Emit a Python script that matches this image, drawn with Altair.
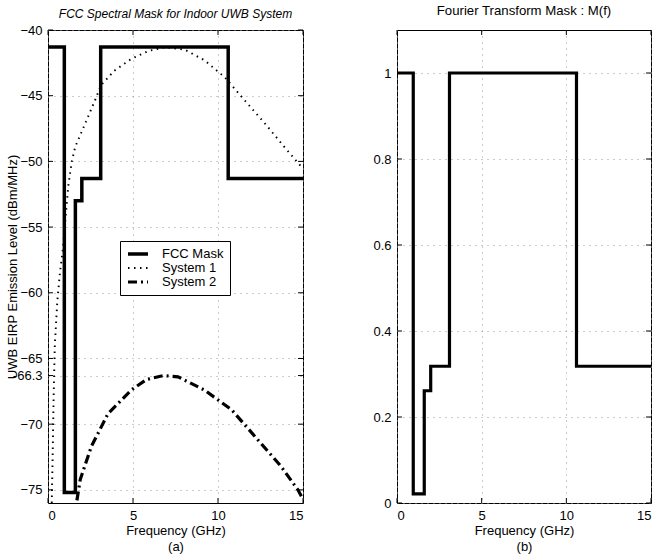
import altair as alt
import pandas as pd

# ---------------- data ----------------
# FCC indoor mask (left panel), step vertices
mask_freq = [0, 0.96, 0.96, 1.61, 1.61, 1.99, 1.99, 3.1, 3.1, 10.6, 10.6, 15]
mask_dbm = [-41.3, -41.3, -75.2, -75.2, -53.0, -53.0, -51.3, -51.3, -41.3, -41.3, -51.3, -51.3]

# System 1 (dotted)
sys1_freq = [0.22, 0.28, 0.33, 0.40, 0.55, 0.70, 0.88, 1.05, 1.20, 1.40, 1.60, 2.16, 2.75, 3.12,
             3.90, 4.90, 5.90, 6.90, 8.05, 9.20, 10.40, 11.60, 12.75, 13.90, 14.90]
sys1_dbm = [-76.0, -72.0, -68.0, -64.0, -60.6, -58.5, -56.6, -54.0, -51.8, -50.0, -48.9, -47.2,
            -45.4, -44.2, -43.1, -42.2, -41.6, -41.3, -41.5, -42.3, -43.6, -45.4, -47.1, -48.9, -50.4]

# System 2 (dash-dot)
sys2_freq = [1.70, 1.90, 2.55, 3.53, 4.90, 5.80, 6.80, 7.65, 9.20, 10.80, 12.35, 13.70, 14.70, 14.95]
sys2_dbm = [-75.8, -74.2, -71.7, -69.2, -67.4, -66.6, -66.3, -66.4, -67.4, -68.9, -71.2, -73.2,
            -75.0, -75.6]

# Fourier transform mask M(f) (right panel)
ft_freq = [0, 0.96, 0.96, 1.61, 1.61, 1.99, 1.99, 3.1, 3.1, 10.6, 10.6, 15]
ft_val = [1.0, 1.0, 0.021, 0.021, 0.261, 0.261, 0.318, 0.318, 1.0, 1.0, 0.318, 0.318]

series_names = ["FCC Mask", "System 1", "System 2"]

x_ticks = [0, 5, 10, 15]
y_ticks_a = [-75, -70, -66.3, -65, -60, -55, -50, -45, -40]
y_ticks_b = [0, 0.2, 0.4, 0.6, 0.8, 1]

# ---------------- tables ----------------
rows = []
for name, fx, fy in [(series_names[0], mask_freq, mask_dbm),
                     (series_names[1], sys1_freq, sys1_dbm),
                     (series_names[2], sys2_freq, sys2_dbm)]:
    for i, (a, b) in enumerate(zip(fx, fy)):
        rows.append({"series": name, "f": a, "v": b, "i": i})
df_a = pd.DataFrame(rows)
df_b = pd.DataFrame({"f": ft_freq, "v": ft_val, "i": list(range(len(ft_freq)))})

FONT = "Liberation Sans"
WA, HA = 255, 473
WB, HB = 254, 473

xtick_df = pd.DataFrame({"f": x_ticks})
ya_df = pd.DataFrame({"v": y_ticks_a})
yb_df = pd.DataFrame({"v": y_ticks_b})

TICK = 5


def inward_ticks(xscale, yscale, ydf, W, H):
    xs = alt.X("f:Q", scale=xscale)
    ys = alt.Y("v:Q", scale=yscale)
    base_x = alt.Chart(xtick_df).mark_rule(color="black", strokeWidth=1)
    base_y = alt.Chart(ydf).mark_rule(color="black", strokeWidth=1)
    return [
        base_x.encode(x=xs, y=alt.value(H), y2=alt.value(H - TICK)),
        base_x.encode(x=xs, y=alt.value(0), y2=alt.value(TICK)),
        base_y.encode(y=ys, x=alt.value(0), x2=alt.value(TICK)),
        base_y.encode(y=ys, x=alt.value(W), x2=alt.value(W - TICK)),
    ]


# ---------------- left panel ----------------
xs_a = alt.Scale(domain=[0, 15], nice=False)
ys_a = alt.Scale(domain=[-76, -40], nice=False)

leg_common = dict(title=None, orient="none", legendX=72, legendY=211)

lines_a = alt.Chart(df_a).mark_line(clip=True).encode(
    x=alt.X("f:Q", scale=xs_a,
            axis=alt.Axis(values=x_ticks, title=["Frequency (GHz)", "(a)"],
                          grid=True, domain=False, ticks=False, labelPadding=6,
                          titlePadding=2, titleLineHeight=16)),
    y=alt.Y("v:Q", scale=ys_a,
            axis=alt.Axis(values=y_ticks_a, title="UWB EIRP Emission Level (dBm/MHz)",
                          grid=True, domain=False, ticks=False, labelPadding=6,
                          titleX=-29, titleY=HA / 2,
                          labelExpr="datum.value == -66.3 ? '-66.3' : datum.label")),
    order="i:Q",
    color=alt.Color("series:N", scale=alt.Scale(domain=series_names,
                                                range=["black", "black", "black"]),
                    legend=alt.Legend(fillColor="white", strokeColor="black", padding=6,
                                      symbolSize=400, symbolType="stroke", clipHeight=14,
                                      labelFont=FONT, labelFontSize=13, rowPadding=0,
                                      labelOffset=12, **leg_common)),
    strokeDash=alt.StrokeDash("series:N", scale=alt.Scale(domain=series_names,
                                                           range=[[1, 0], [1.5, 4.5], [9, 4, 2, 4]]),
                              legend=alt.Legend(**leg_common)),
    strokeWidth=alt.StrokeWidth("series:N", scale=alt.Scale(type="ordinal", domain=series_names,
                                                             range=[3.5, 1.9, 3.2]),
                                legend=alt.Legend(**leg_common)),
)

left = alt.layer(lines_a, *inward_ticks(xs_a, ys_a, ya_df, WA, HA)).properties(
    width=WA, height=HA,
    title=alt.TitleParams("FCC Spectral Mask for Indoor UWB System", font=FONT, fontSize=12,
                          fontStyle="italic", fontWeight="normal", offset=3),
)

# ---------------- right panel ----------------
xs_b = alt.Scale(domain=[0, 15], nice=False)
ys_b = alt.Scale(domain=[0, 1.1], nice=False)

line_b = alt.Chart(df_b).mark_line(color="black", strokeWidth=3.2, clip=True).encode(
    x=alt.X("f:Q", scale=xs_b,
            axis=alt.Axis(values=x_ticks, title=["Frequency (GHz)", "(b)"],
                          grid=True, domain=False, ticks=False, labelPadding=6,
                          titlePadding=2, titleLineHeight=16)),
    y=alt.Y("v:Q", scale=ys_b,
            axis=alt.Axis(values=y_ticks_b, title=None, grid=True, domain=False,
                          ticks=False, labelPadding=6, format="~g")),
    order="i:Q",
)

right = alt.layer(line_b, *inward_ticks(xs_b, ys_b, yb_df, WB, HB)).properties(
    width=WB, height=HB,
    title=alt.TitleParams("Fourier Transform Mask : M(f)", font=FONT, fontSize=13.2,
                          fontWeight="normal", offset=11),
)

chart = alt.hconcat(left, right, spacing=68).resolve_scale(
    x="independent", y="independent", color="independent",
    strokeDash="independent", strokeWidth="independent"
).properties(
    padding={"left": 5, "top": 3, "right": 0, "bottom": 0},
    background="white",
).configure_view(
    stroke="black", strokeWidth=1
).configure_axis(
    labelFont=FONT, titleFont=FONT, labelFontSize=13, titleFontSize=13,
    labelColor="black", titleColor="black", titleFontWeight="normal",
    gridDash=[1, 5], gridColor="#999", gridWidth=1,
)

chart.save("out.html", embed_options={"renderer": "svg", "actions": False})
